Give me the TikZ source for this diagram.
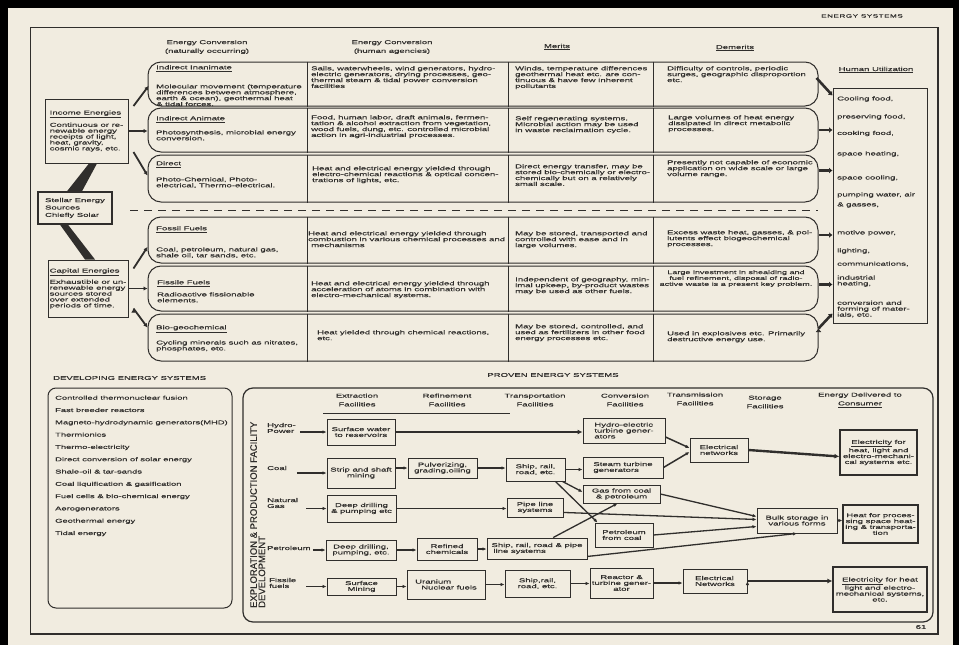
\documentclass[tikz,border=0pt]{standalone}
\usepackage{fontspec}
\setmainfont[FakeStretch=1.7,FakeBold=0.35]{Liberation Sans}
\newfontfamily\uprightsans[FakeBold=0.35]{Liberation Sans}
\usetikzlibrary{arrows.meta,calc,positioning}

\definecolor{paper}{HTML}{F1ECE0}
\definecolor{ink}{HTML}{302E2C}

\newcommand{\smallfont}{\fontsize{5.6}{5.9}\selectfont}

\tikzset{
  txt/.style={font=\smallfont, text=ink, inner sep=0pt, align=left},
  colhead/.style={font=\fontsize{5.6}{8.7}\selectfont, text=ink, inner sep=0pt, align=center},
  rowband/.style={draw=ink, line width=1pt, rounded corners=13pt, minimum width=670pt, inner sep=0pt},
  divider/.style={draw=ink, line width=0.6pt},
  sidebox/.style={draw=ink, line width=1pt, font=\smallfont, text=ink, align=left, inner sep=0pt},
  flowbox/.style={draw=ink, line width=0.9pt, font=\smallfont, text=ink, align=center, inner sep=1pt},
  flow/.style={draw=ink, line width=1.3pt, -{Latex[length=4pt,width=3.5pt]}},
  heavyflow/.style={flow, line width=2.4pt, -{Latex[length=5pt,width=5pt]}},
  link/.style={draw=ink, line width=1.5pt},
  branch/.style={draw=ink, line width=1.8pt, -{Latex[length=4pt,width=4.5pt]}},
  fat/.style={draw=ink, line width=2.6pt, -{Latex[length=3.5pt,width=6pt]}},
}

\begin{document}
\begin{tikzpicture}[x=1pt, y=-1pt]
\useasboundingbox (0,0) rectangle (959,645);
\fill[black] (0,0) rectangle (959,645);
\fill[paper] (8,8) rectangle (953,645);

% page frame
\draw[ink, line width=1pt] (30,27) rectangle (938,634);
\draw[ink, line width=2pt] (938,27) -- (938,634) -- (30,634);
\node[txt, font=\fontsize{4.8}{6}\selectfont\addfontfeature{LetterSpace=10}] (pagehead) at (862,16) {ENERGY SYSTEMS};
\node[txt] (pageno) at (921,627) {61};

% column headings
\node[colhead] (hnat) at (207,47) {Energy Conversion\\(naturally occurring)};
\node[colhead] (hhum) at (392,47) {Energy Conversion\\(human agencies)};
\node[colhead] (hmer) at (557,47) {\underline{Merits}};
\node[colhead] (hdem) at (735,48) {\underline{Demerits}};
\node[colhead] (hhu) at (876,70) {\underline{Human Utilization}};

% the six rows
\node[rowband, minimum height=44pt] (r1) at (483,84) {};
\node[rowband, minimum height=44pt] (r2) at (483,130) {};
\node[rowband, minimum height=47pt] (r3) at (483,178.5) {};
\node[rowband, minimum height=46pt] (r4) at (483,240) {};
\node[rowband, minimum height=45pt] (r5) at (483,288.5) {};
\node[rowband, minimum height=47pt] (r6) at (483,337.5) {};
\coordinate (c1) at (307,0);
\coordinate (c2) at (508,0);
\coordinate (c3) at (653,0);
\path[divider]
  (r1.north -| c1) edge (r1.south -| c1) (r1.north -| c2) edge (r1.south -| c2) (r1.north -| c3) edge (r1.south -| c3)
  (r2.north -| c1) edge (r2.south -| c1) (r2.north -| c2) edge (r2.south -| c2) (r2.north -| c3) edge (r2.south -| c3)
  (r3.north -| c1) edge (r3.south -| c1) (r3.north -| c2) edge (r3.south -| c2) (r3.north -| c3) edge (r3.south -| c3)
  (r4.north -| c1) edge (r4.south -| c1) (r4.north -| c2) edge (r4.south -| c2) (r4.north -| c3) edge (r4.south -| c3)
  (r5.north -| c1) edge (r5.south -| c1) (r5.north -| c2) edge (r5.south -| c2) (r5.north -| c3) edge (r5.south -| c3)
  (r6.north -| c1) edge (r6.south -| c1) (r6.north -| c2) edge (r6.south -| c2) (r6.north -| c3) edge (r6.south -| c3)
  ;
\draw[ink, line width=0.9pt, dash pattern=on 8pt off 6pt] (130,210) -- (818,210);

% row texts
\node[txt, anchor=north west] (t11) at (156,65) {\underline{Indirect Inanimate}\\[12pt]Molecular movement (temperature\\differences between  atmosphere,\\earth \& ocean), geothermal heat\\\& tidal forces.};
\node[txt, anchor=north west] (t12) at (311,66) {Sails, waterwheels, wind generators, hydro-\\electric generators, drying processes, geo-\\thermal steam \& tidal power conversion\\facilities};
\node[txt, anchor=north west] (t13) at (515,66) {Winds, temperature differences\\geothermal heat etc. are con-\\tinuous \& have few inherent\\pollutants};
\node[txt, anchor=north west] (t14) at (667,66) {Difficulty of controls, periodic\\surges, geographic  disproportion\\etc.};

\node[txt, anchor=north west] (t21) at (156,116) {\underline{Indirect Animate}\\[7pt]Photosynthesis, microbial energy\\conversion.};
\node[txt, anchor=north west] (t22) at (311,115) {Food, human labor, draft animals, fermen-\\tation \& alcohol extraction from vegetation,\\wood fuels, dung, etc. controlled microbial\\action in agri-industrial processes.};
\node[txt, anchor=north west] (t23) at (515,116) {Self regenerating systems.\\Microbial action may be used\\in waste reclaimation cycle.};
\node[txt, anchor=north west] (t24) at (668,115) {Large volumes of heat energy\\dissipated in direct metabolic\\processes.};

\node[txt, anchor=north west] (t31) at (156,161) {\underline{Direct}\\[9pt]Photo-Chemical, Photo-\\electrical, Thermo-electrical.};
\node[txt, anchor=north west] (t32) at (312,166) {Heat and electrical energy yielded through\\electro-chemical  reactions \& optical concen-\\trations of lights, etc.};
\node[txt, anchor=north west] (t33) at (515,164) {Direct energy transfer, may be\\stored bio-chemically or electro-\\chemically but on a relatively\\small scale.};
\node[txt, anchor=north west] (t34) at (667,160) {Presently not capable of economic\\application on wide scale or large\\volume range.};

\node[txt, anchor=north west] (t41) at (156,226) {\underline{Fossil Fuels}\\[14pt]Coal, petroleum, natural gas,\\shale oil, tar sands, etc.};
\node[txt, anchor=north west] (t42) at (308,231) {Heat and electrical energy yielded through\\combustion in various chemical processes and\\\hspace{3pt}mechanisms};
\node[txt, anchor=north west] (t43) at (515,231) {May be stored, transported and\\controlled with ease and in\\large volumes.};
\node[txt, anchor=north west] (t44) at (667,230) {Excess waste heat, gasses, \& pol-\\lutents effect biogeochemical\\processes.};

\node[txt, anchor=north west] (t51) at (157,280) {\underline{Fissile Fuels}\\[5pt]Radioactive fissionable\\elements.};
\node[txt, anchor=north west] (t52) at (311,281) {Heat and electrical energy yielded through\\acceleration of atoms in combination with\\electro-mechanical systems.};
\node[txt, anchor=north west] (t53) at (515,277) {Independent of geography, min-\\imal upkeep, by-product wastes\\may be used as other fuels.};
\node[txt, anchor=north, align=center, font=\fontsize{5.3}{5.9}\selectfont] (t54) at (736,270) {Large investment in shealding and\\fuel refinement, disposal of radio-\\active waste is a present key problem.};

\node[txt, anchor=north west] (t61) at (156,325) {\underline{Bio-geochemical}\\[7pt]Cycling minerals such as nitrates,\\phosphates, etc.};
\node[txt, anchor=north west] (t62) at (317,330) {Heat yielded through chemical reactions,\\etc.};
\node[txt, anchor=north west] (t63) at (515,324) {May be stored, controlled, and\\used as fertilizers in other food\\energy processes etc.};
\node[txt, anchor=north west] (t64) at (667,331) {Used in explosives etc. Primarily\\destructive energy use.};

% sources on the left
\node[sidebox, minimum width=83pt, minimum height=64pt] (income) at (86.5,131) {\underline{Income Energies}\\[4pt]Continuous or re-\\newable energy\\receipts of light,\\heat, gravity,\\cosmic rays, etc.};
\node[sidebox, line width=1.4pt, minimum width=74pt, minimum height=32pt] (stellar) at (75,208) {Stellar Energy\\[1.5pt]Sources\\[1.5pt]Chiefly Solar};
\node[sidebox, minimum width=80pt, minimum height=57pt] (capital) at (88,288.5) {\underline{Capital Energies}\\[3pt]Exhaustible or un-\\renewable energy\\sources stored\\over extended\\periods of time.};

\fill[ink] ($(stellar.north)+(-8,0)$) -- ($(stellar.north)+(7,0)$) -- ($(income.south)+(10.5,0)$) -- ($(income.south)+(2.5,0)$) -- cycle;
\fill[ink] ($(stellar.south)+(-15,0)$) -- ($(stellar.south)+(-7,0)$) -- ($(capital.north)+(7,0)$) -- ($(capital.north)+(-3,0)$) -- cycle;

\path[branch]
  ($(income.east)+(5,-25)$) edge ($(r1.west)+(1,2)$)
  (income.east) edge (r2.west |- income.east)
  ($(income.east)+(5,21)$) edge ($(r3.west)+(0,-3)$)
  ($(capital.east)+(5,-20)$) edge ($(r4.west)+(0,7)$)
  (capital.east) edge (r5.west |- capital.east)
  ($(capital.east)+(5,20)$) edge ($(r6.west)+(0,-10)$)
  ;

% human utilization
\node[sidebox, minimum width=94pt, minimum height=235pt] (human) at (880,205.5) {};
\node[txt, anchor=west] (hu1) at (837,99) {Cooling food,};
\node[txt, anchor=west] (hu2) at (837,117) {preserving food,};
\node[txt, anchor=west] (hu3) at (837,133.5) {cooking food,};
\node[txt, anchor=west] (hu4) at (837,154) {space heating,};
\node[txt, anchor=west] (hu5) at (837,178) {space cooling,};
\node[txt, anchor=west] (hu6) at (837,195) {pumping water, air};
\node[txt, anchor=west] (hu7) at (837,205) {\& gasses,};
\node[txt, anchor=west] (hu8) at (837,233) {motive power,};
\node[txt, anchor=west] (hu9) at (837,251) {lighting,};
\node[txt, anchor=west] (hu10) at (837,264) {communications,};
\node[txt, anchor=west] (hu11) at (837,281) {industrial\\heating,};
\node[txt, anchor=west] (hu12) at (837,309) {conversion and\\forming of mater-\\ials, etc.};

\path[fat]
  ($(r1.east)+(-2,-6)$) edge ($(human.north west)+(0,8)$)
  (r2.east) edge (human.west |- r2.east)
  ($(r3.east)+(0,-8)$) edge ($(human.west |- r3.east)+(0,-8)$)
  ($(r4.east)+(0,-5)$) edge ($(human.west |- r4.east)+(0,-5)$)
  ($(r5.east)+(0,-4)$) edge ($(human.west |- r5.east)+(0,-4)$)
  ($(r6.east)+(0,-9)$) edge ($(human.south west)+(0,-10)$)
  ;

% developing energy systems
\node[txt, anchor=west] (devtitle) at (53,378) {DEVELOPING ENERGY SYSTEMS};
\draw[ink, line width=1pt, rounded corners=8pt] (48,388) rectangle (232,608);
\node[txt, font=\fontsize{5.5}{12.3}\selectfont, anchor=north west] (devlist) at (55,395.5) {Controlled thermonuclear fusion\\Fast breeder reactors\\Magneto-hydrodynamic generators(MHD)\\Thermionics\\Thermo-electricity\\Direct conversion of solar energy\\Shale-oil \& tar-sands\\Coal liquification \& gasification\\Fuel cells \& bio-chemical energy\\Aerogenerators\\Geothermal energy\\Tidal energy};

% proven energy systems
\node[txt] (proventitle) at (553,375) {PROVEN ENERGY SYSTEMS};
\draw[ink, line width=1.2pt, rounded corners=10pt] (243,388) rectangle (933,622);
\node[txt, font=\uprightsans\fontsize{9.5}{8.3}\selectfont, rotate=90, anchor=north west] (explabel) at (250,608) {EXPLORATION \& PRODUCTION FACILITY\\DEVELOPMENT};

\node[colhead] (hextr) at (357,400) {Extraction\\Facilities};
\node[colhead] (hrefi) at (447,400) {Refinement\\Facilities};
\node[colhead] (htrans) at (535,400) {Transportation\\Facilities};
\node[colhead] (hconv) at (625,400) {Conversion\\Facilities};
\node[colhead] (htransm) at (695,399) {Transmission\\Facilities};
\node[colhead] (hstor) at (765,402) {Storage\\Facilities};
\node[colhead] (hcons) at (860,400) {Energy Delivered to\\\underline{Consumer}};
\draw[ink, line width=0.8pt] (323,413) -- (510,413);

\node[txt, anchor=west] (hydrolab) at (267,428) {Hydro-\\Power};
\node[txt, anchor=west] (coallab) at (267,468) {Coal};
\node[txt, anchor=west] (gaslab) at (267,503) {Natural\\Gas};
\node[txt, anchor=west] (petlab) at (267,548) {Petroleum};
\node[txt, anchor=west] (fislab) at (269,583) {Fissile\\fuels};

\node[flowbox, minimum width=68pt, minimum height=26pt] (surf) at (361,432) {Surface water\\to reservoirs};
\node[flowbox, minimum width=68pt, minimum height=30pt] (strip) at (361,473) {Strip and shaft\\mining};
\node[flowbox, minimum width=69pt, minimum height=27pt] (deepgas) at (361.5,508.5) {Deep drilling\\\& pumping etc};
\node[flowbox, minimum width=70pt, minimum height=20pt] (deeppet) at (361,550) {Deep drilling,\\pumping, etc.};
\node[flowbox, minimum width=69pt, minimum height=17pt] (surfmin) at (361.5,586.5) {Surface\\Mining};
\node[flowbox, minimum width=69pt, minimum height=20pt] (pulv) at (442.5,468) {Pulverizing,\\grading,oiling};
\node[flowbox, minimum width=60pt, minimum height=22pt] (refch) at (447,549) {Refined\\chemicals};
\node[flowbox, minimum width=78pt, minimum height=29pt, align=left] (uran) at (446,584.5) {Uranium\\\hspace{6pt}Nuclear fuels};
\node[flowbox, minimum width=59pt, minimum height=23pt] (shipc) at (535.5,469.5) {Ship, rail,\\road, etc.};
\node[flowbox, minimum width=56pt, minimum height=19pt] (pipe) at (535,507.5) {Pipe line\\systems};
\node[flowbox, minimum width=100pt, minimum height=21pt, align=left] (shipp) at (537,548.5) {Ship, rail, road \& pipe\\\hspace{2pt}line systems};
\node[flowbox, minimum width=65pt, minimum height=27pt] (shipf) at (537.5,583.5) {Ship,rail,\\road, etc.};
\node[flowbox, minimum width=82pt, minimum height=25pt, align=left] (hydel) at (624,430.5) {Hydro-electric\\turbine gener-\\ators};
\node[flowbox, minimum width=80pt, minimum height=21pt, align=left] (steam) at (623,467.5) {Steam turbine\\generators};
\node[flowbox, minimum width=77pt, minimum height=18pt] (gas) at (621.5,494) {Gas from coal\\\& petroleum};
\node[flowbox, minimum width=58pt, minimum height=24pt, align=left] (petc) at (624,535) {Petroleum\\from coal};
\node[flowbox, minimum width=63pt, minimum height=30pt] (react) at (621.5,583) {Reactor \&\\turbine gener-\\ator};
\node[flowbox, minimum width=58pt, minimum height=24pt] (elnet) at (719,450) {Electrical\\networks};
\node[flowbox, minimum width=64pt, minimum height=24pt, align=left] (elnetf) at (715,581) {Electrical\\Networks};
\node[flowbox, minimum width=80pt, minimum height=25pt] (bulk) at (797,520.5) {Bulk storage in\\various forms};
\node[flowbox, line width=1.2pt, minimum width=77pt, minimum height=45pt] (elec) at (878.5,452.5) {\underline{Electricity} for\\heat, light and\\electro-mechani-\\cal systems etc.};
\node[flowbox, line width=1.2pt, minimum width=75pt, minimum height=38pt] (heat) at (880.5,524) {Heat for proces-\\sing space heat-\\ing \& transporta-\\tion};
\node[flowbox, line width=1.2pt, minimum width=94pt, minimum height=45pt] (elecf) at (880,589.5) {\underline{Electricity} for heat\\light and electro-\\mechanical systems,\\etc.};

\path[flow]
  ($(hydrolab.east |- surf.west)+(4,0)$) edge (surf.west)
  (surf.east) edge[heavyflow] (hydel.west |- surf.east)
  ($(hydel.east)!0.5!(hydel.south east)$) edge[link] ($(elnet.west)+(0,-2)$)
  (steam.east) edge[link] ($(elnet.west)+(0,2)$)
  (elnet.east) edge[heavyflow] ($(elec.west)+(0,4)$)
  ($(coallab.east |- strip.west)+(10,0)$) edge (strip.west)
  (strip.east |- pulv.west) edge (pulv.west)
  (pulv.east) edge (shipc.west |- pulv.east)
  (shipc.east) edge (steam.west |- shipc.east)
  ($(shipc.south east)+(-3,0)$) edge ($(gas.west)+(0,-2)$)
  ($(shipc.south east)+(-10,0)$) edge ($(petc.north west)+(3,0)$)
  (gas.east) edge ($(bulk.west)+(0,-4)$)
  ($(gaslab.east |- deepgas.west)+(8,0)$) edge (deepgas.west)
  (deepgas.east) edge (pipe.west |- deepgas.east)
  ($(pipe.south east)+(0,-5)$) edge ($(bulk.west)+(0,-1)$)
  ($(petlab.east |- deeppet.west)+(2,0)$) edge (deeppet.west)
  (deeppet.east) edge (refch.west |- deeppet.east)
  (refch.east) edge (shipp.west |- refch.east)
  ($(shipp.north west)!0.66!(shipp.north east)$) edge ($(gas.south)+(-4,0)$)
  ($(shipp.south east)+(0,-3)$) edge (bulk.south)
  (petc.east) edge ($(bulk.west)+(0,6)$)
  (bulk.east) edge (heat.west |- bulk.east)
  ($(fislab.east |- surfmin.west)+(10,0)$) edge (surfmin.west)
  (surfmin.east) edge (uran.west |- surfmin.east)
  (uran.east) edge (shipf.west |- uran.east)
  (shipf.east) edge (react.west |- shipf.east)
  (react.east) edge (elnetf.west |- react.east)
  (elnetf.east) edge[heavyflow] (elecf.west |- elnetf.east)
  ;
\end{tikzpicture}
\end{document}
